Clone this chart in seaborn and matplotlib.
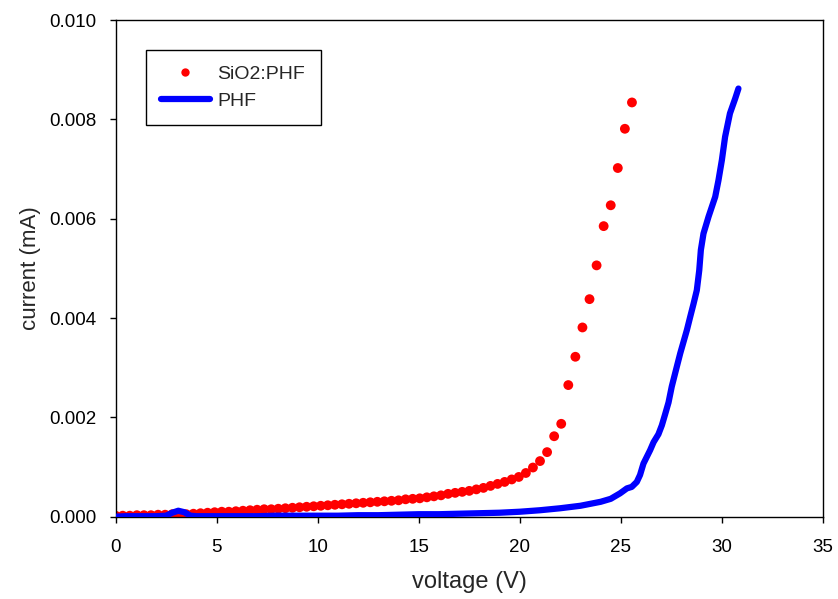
import numpy as np
import pandas as pd
import matplotlib
matplotlib.use("Agg")
import matplotlib.pyplot as plt
import seaborn as sns
from matplotlib.lines import Line2D

# SiO2:PHF (scatter) data
sio2_voltage = [round(0.35 * k, 2) for k in range(74)]
sio2_current = [
    0.00002, 0.00002, 0.00002, 0.00003, 0.00003, 0.00003, 0.00004, 0.00004,
    0.00005, 0.00005, 0.00005, 0.00006, 0.00007, 0.00008, 0.00009, 0.00010,
    0.00010, 0.00011, 0.00012, 0.00013, 0.00014, 0.00015, 0.00015, 0.00016,
    0.00017, 0.00018, 0.00019, 0.00020, 0.00021, 0.00022, 0.00023, 0.00024,
    0.00025, 0.00026, 0.00027, 0.00028, 0.00029, 0.00030, 0.00031, 0.00032,
    0.00033, 0.00035, 0.00036, 0.00037, 0.00039, 0.00041, 0.00043, 0.00046,
    0.00048, 0.00050, 0.00052, 0.00055, 0.00058, 0.00062, 0.00066, 0.00070,
    0.00075, 0.00080, 0.00088, 0.00099, 0.00112, 0.00130, 0.00162, 0.00187,
    0.00265, 0.00322, 0.00381, 0.00438, 0.00506, 0.00585, 0.00627, 0.00702,
    0.00781, 0.00834,
]

# PHF (line) data
phf_voltage = [0, 0.5, 1, 1.5, 2, 2.5, 2.8, 3.1, 3.4, 3.7, 4.0, 5, 6, 7, 8, 9,
               10, 11, 12, 13, 14, 15, 16, 17, 18, 19, 20, 21, 22, 23, 23.5,
               24, 24.5, 24.96, 25.3, 25.54, 25.79, 25.95, 26.12, 26.45, 26.62,
               26.86, 27.03, 27.19, 27.36, 27.52, 27.77, 27.94, 28.27, 28.43,
               28.6, 28.76, 28.88, 28.96, 29.09, 29.34, 29.67, 29.83, 30.0,
               30.16, 30.4, 30.66, 30.82]
phf_current = [0.00000, 0.00001, 0.00001, 0.00001, 0.00001, 0.00002, 0.00008,
               0.00012, 0.00009, 0.00002, 0.00001, 0.00001, 0.00001, 0.00001,
               0.00002, 0.00002, 0.00002, 0.00002, 0.00003, 0.00003, 0.00004,
               0.00005, 0.00005, 0.00006, 0.00007, 0.00008, 0.00010, 0.00013,
               0.00017, 0.00022, 0.00026, 0.00030, 0.00036, 0.00047, 0.00057,
               0.00060, 0.00070, 0.00084, 0.00107, 0.00134, 0.00150, 0.00166,
               0.00184, 0.00206, 0.00230, 0.00262, 0.00302, 0.00329, 0.00376,
               0.00402, 0.00429, 0.00456, 0.00496, 0.00537, 0.00570, 0.00604,
               0.00644, 0.00677, 0.00718, 0.00765, 0.00812, 0.00842, 0.00862]

x_ticks = [0, 5, 10, 15, 20, 25, 30, 35]
y_ticks = [0.000, 0.002, 0.004, 0.006, 0.008, 0.010]

sns.set_style("ticks")
plt.rcParams['font.family'] = ['Liberation Sans', 'DejaVu Sans']

df_s = pd.DataFrame({"voltage": sio2_voltage, "current": sio2_current})
df_p = pd.DataFrame({"voltage": phf_voltage, "current": phf_current})

fig = plt.figure(figsize=(8.38, 5.99), dpi=100)
ax = fig.add_axes([0.138, 0.1374, 0.844, 0.8292])

sns.scatterplot(data=df_s, x="voltage", y="current", ax=ax, color="#ff0000",
                s=50, edgecolor="none", linewidth=0, zorder=2, legend=False)
sns.lineplot(data=df_p, x="voltage", y="current", ax=ax, color="#0000ff",
             linewidth=4.5, sort=False, estimator=None, zorder=3, legend=False,
             solid_capstyle="round", solid_joinstyle="round")

ax.set_xlim(0, 35)
ax.set_ylim(0, 0.010)
ax.set_xticks(x_ticks)
ax.set_xticklabels([str(t) for t in x_ticks])
ax.set_yticks(y_ticks)
ax.set_yticklabels([f"{t:.3f}" for t in y_ticks])
ax.tick_params(axis="both", direction="out", length=4, width=1, labelsize=13.5,
               colors="black", top=False, right=False)
ax.tick_params(axis="x", pad=12)
ax.tick_params(axis="y", pad=10)
for sp in ax.spines.values():
    sp.set_visible(True)
    sp.set_color("black")
    sp.set_linewidth(1.0)

ax.set_xlabel("voltage (V)", fontsize=17, labelpad=11)
ax.set_ylabel("current (mA)", fontsize=16, labelpad=6)

handles = [
    Line2D([], [], linestyle="none", marker="o", markersize=6,
           markerfacecolor="#ff0000", markeredgecolor="none"),
    Line2D([], [], color="#0000ff", linewidth=4.5, solid_capstyle="round"),
]
leg = ax.legend(handles, ["SiO2:PHF", "PHF"], loc="upper left",
                bbox_to_anchor=(0.0424, 0.9396), fontsize=14, frameon=True,
                fancybox=False, edgecolor="black", framealpha=1,
                handlelength=2.5, handletextpad=0.4, borderpad=0.8,
                labelspacing=0.45, borderaxespad=0)
leg.get_frame().set_linewidth(1.0)

fig.savefig("out.png", dpi=100)
